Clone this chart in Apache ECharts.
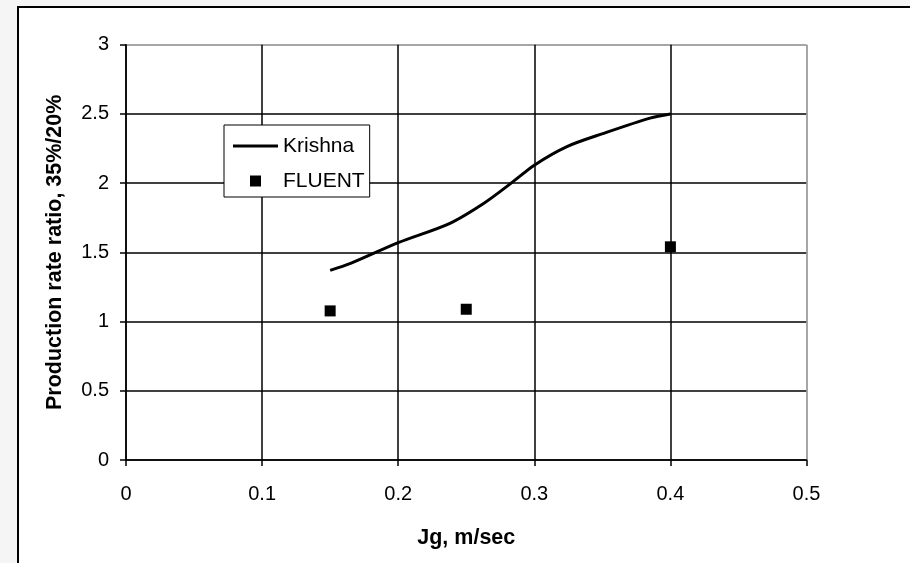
<!DOCTYPE html>
<html>
<head>
<meta charset="utf-8">
<script src="https://cdn.jsdelivr.net/npm/echarts@6/dist/echarts.min.js"></script>
<style>
html,body{margin:0;padding:0;background:#f5f5f5;}
#chart{width:910px;height:563px;}
</style>
</head>
<body>
<div id="chart"></div>
<script>
// Data
var krishnaX = [0.15, 0.165, 0.2, 0.238, 0.263, 0.283, 0.3, 0.324, 0.351, 0.385, 0.4];
var krishnaY = [1.37, 1.42, 1.57, 1.71, 1.855, 2.0, 2.13, 2.264, 2.36, 2.47, 2.5];
var fluentX = [0.15, 0.25, 0.4];
var fluentY = [1.077, 1.089, 1.54];
var xTitle = 'Jg, m/sec';
var yTitle = 'Production rate ratio, 35%/20%';
var seriesNames = ['Krishna', 'FLUENT'];

var krishnaData = krishnaX.map(function (x, i) { return [x, krishnaY[i]]; });
var fluentData = fluentX.map(function (x, i) { return [x, fluentY[i]]; });

var FONT = '"Liberation Sans", Arial, sans-serif';
var chart = echarts.init(document.getElementById('chart'), null, {renderer: 'canvas'});
chart.setOption({
  backgroundColor: '#f5f5f5',
  animation: false,
  graphic: [{
    type: 'rect', z: -100, silent: true,
    shape: {x: 18, y: 7, width: 1000, height: 1000},
    style: {fill: '#ffffff', stroke: '#000', lineWidth: 2}
  }],
  grid: {left: 126, right: 103.5, top: 44.7, bottom: 103, containLabel: false},
  legend: {
    orient: 'vertical',
    left: 224, top: 125,
    backgroundColor: '#fff',
    borderColor: '#000', borderWidth: 1,
    padding: [10, 5, 5, 9],
    itemWidth: 45, itemHeight: 11, itemGap: 13,
    textStyle: {fontFamily: FONT, fontSize: 21, color: '#000', lineHeight: 22},
    data: [
      {name: seriesNames[0], icon: 'path://M0,0H15V1H0Z'},
      {name: seriesNames[1], icon: 'path://M0,0H1V1H0Z', itemStyle: {color: '#000', opacity: 1}}
    ]
  },
  xAxis: {
    type: 'value', min: 0, max: 0.5, interval: 0.1,
    name: xTitle, nameLocation: 'middle', nameGap: 67,
    nameTextStyle: {fontFamily: FONT, fontSize: 21.5, fontWeight: 'bold', color: '#000'},
    axisLine: {show: true, onZero: false, lineStyle: {color: '#000', width: 1.5}},
    axisTick: {show: true, inside: false, length: 6, lineStyle: {color: '#000', width: 1.5}},
    axisLabel: {fontFamily: FONT, fontSize: 20, color: '#000', margin: 24},
    splitLine: {show: true, lineStyle: {color: ['#000','#000','#000','#000','#000','#888'], width: 1.5}}
  },
  yAxis: {
    type: 'value', min: 0, max: 3, interval: 0.5,
    name: yTitle, nameLocation: 'middle', nameGap: 60,
    nameTextStyle: {fontFamily: FONT, fontSize: 21.5, fontWeight: 'bold', color: '#000'},
    axisLine: {show: true, onZero: false, lineStyle: {color: '#000', width: 1.5}},
    axisTick: {show: true, inside: false, length: 6, lineStyle: {color: '#000', width: 1.5}},
    axisLabel: {fontFamily: FONT, fontSize: 20, color: '#000', margin: 17},
    splitLine: {show: true, lineStyle: {color: ['#000','#000','#000','#000','#000','#000','#888'], width: 1.5}}
  },
  series: [
    {
      name: seriesNames[0], type: 'line', data: krishnaData,
      symbol: 'none', smooth: 0.3,
      lineStyle: {color: '#000', width: 3},
      itemStyle: {color: '#000'}, z: 3
    },
    {
      name: seriesNames[1], type: 'scatter', data: fluentData,
      symbol: 'rect', symbolSize: 11,
      itemStyle: {color: '#000', opacity: 1}, z: 4
    }
  ]
});
</script>
</body>
</html>
